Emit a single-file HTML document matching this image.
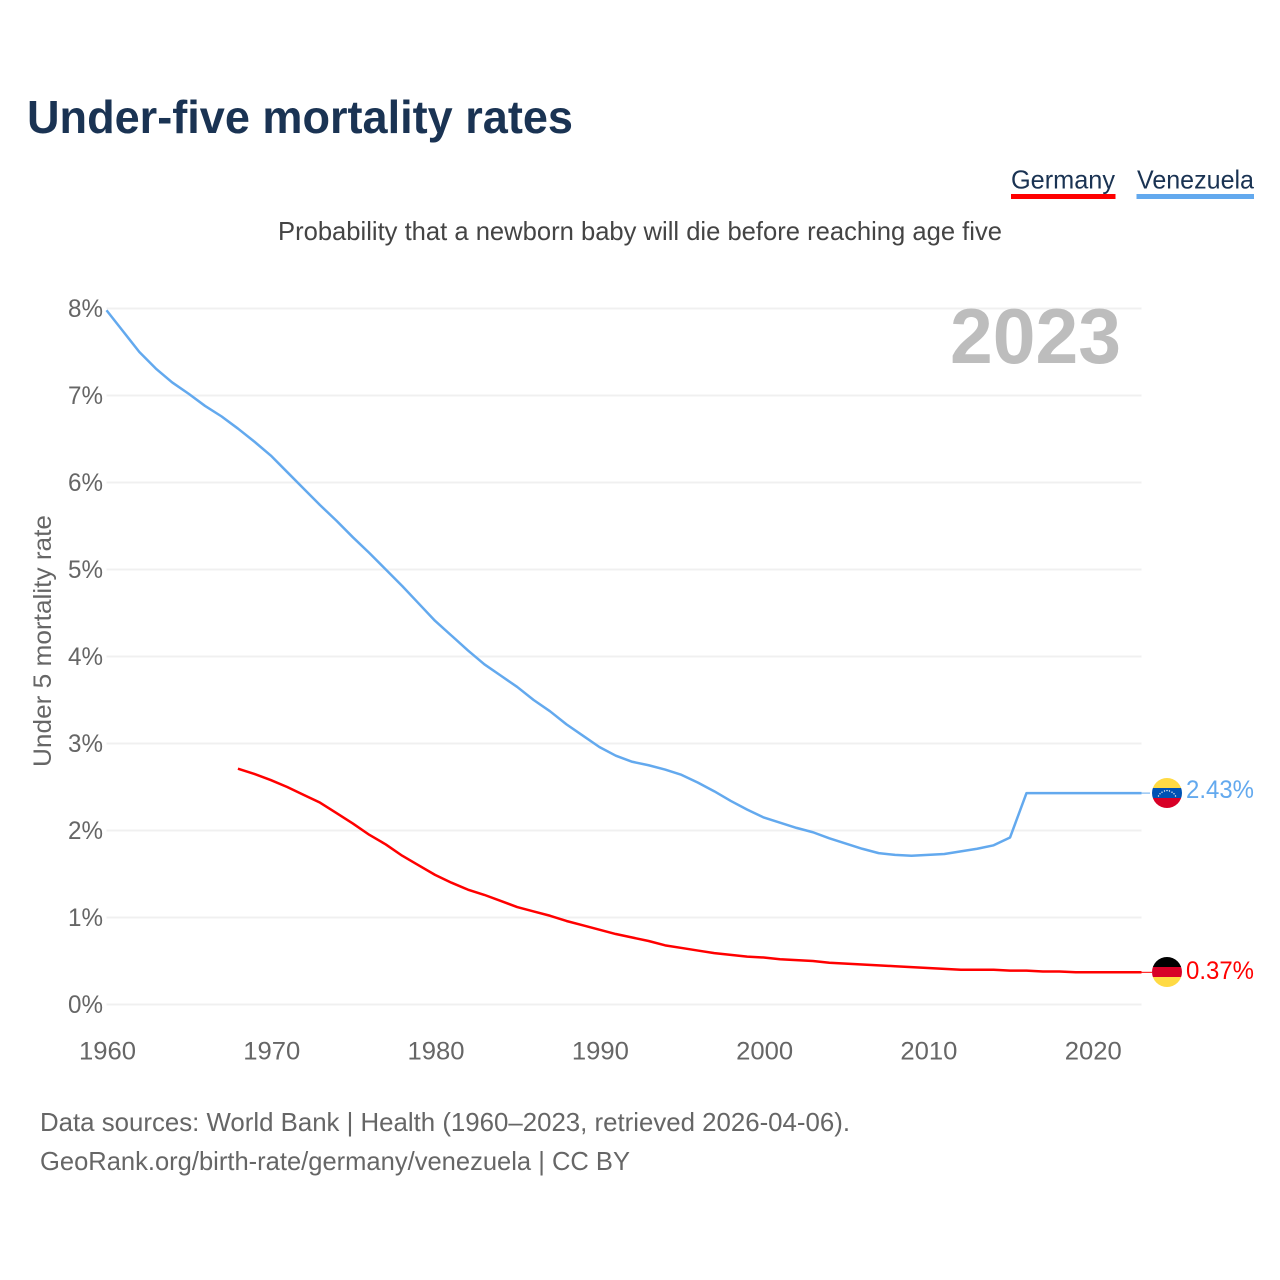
<!DOCTYPE html>
<html lang="en">
<head>
<meta charset="utf-8">
<title>Under-five mortality rates</title>
<style>
html,body{margin:0;padding:0;background:#fff}
svg{display:block}
text{font-family:"Liberation Sans",sans-serif}
</style>
</head>
<body>
<svg id="chart" xmlns="http://www.w3.org/2000/svg" width="1280" height="1280" viewBox="0 0 1280 1280">
  <defs>
    <clipPath id="ve-clip"><circle cx="1167" cy="793" r="15"/></clipPath>
    <clipPath id="de-clip"><circle cx="1167" cy="972" r="15"/></clipPath>
  </defs>
  <rect width="1280" height="1280" fill="#fff"/>
  <text x="27" y="133" font-size="46" font-weight="700" fill="#1a3353" textLength="546" lengthAdjust="spacingAndGlyphs">Under-five mortality rates</text>

  <g>
    <text x="1011" y="188.500" font-size="26" fill="#1a3353" textLength="104" lengthAdjust="spacingAndGlyphs">Germany</text>
    <rect x="1011" y="194" width="104.500" height="5" fill="#ff0000"/>
  </g>
  <g>
    <text x="1137" y="188.500" font-size="26" fill="#1a3353" textLength="117" lengthAdjust="spacingAndGlyphs">Venezuela</text>
    <rect x="1136.500" y="194" width="117.500" height="5" fill="#63a9ee"/>
  </g>

  <text x="278" y="240" font-size="26" fill="#444444" textLength="724" lengthAdjust="spacingAndGlyphs">Probability that a newborn baby will die before reaching age five</text>

  <g id="grid"></g>
  <g id="y-ticks"></g>
  <g id="x-ticks"></g>

  <text x="950" y="363" font-size="78" font-weight="700" fill="#bdbdbd" textLength="171" lengthAdjust="spacingAndGlyphs">2023</text>
  <text transform="translate(51,767) rotate(-90)" font-size="25" fill="#666666" textLength="252" lengthAdjust="spacingAndGlyphs">Under 5 mortality rate</text>

  <g id="series"></g>

  <g clip-path="url(#ve-clip)">
    <rect x="1152" y="778" width="30" height="10" fill="#ffda44"/>
    <rect x="1152" y="788" width="30" height="10" fill="#0052b4"/>
    <rect x="1152" y="798" width="30" height="10" fill="#d80027"/>
    <g fill="#f0f0f0">
      <circle cx="1158.500" cy="796" r=".7"/><circle cx="1160" cy="793.800" r=".7"/><circle cx="1162" cy="792.200" r=".7"/><circle cx="1164.500" cy="791" r=".7"/><circle cx="1167" cy="790.600" r=".7"/><circle cx="1169.500" cy="791" r=".7"/><circle cx="1172" cy="792.200" r=".7"/><circle cx="1174" cy="793.800" r=".7"/><circle cx="1175.500" cy="796" r=".7"/>
    </g>
  </g>
  <g clip-path="url(#de-clip)">
    <rect x="1152" y="957" width="30" height="10" fill="#000000"/>
    <rect x="1152" y="967" width="30" height="10" fill="#d80027"/>
    <rect x="1152" y="977" width="30" height="10" fill="#ffda44"/>
  </g>

  <text id="label-ve" x="1186" y="798" font-size="25" fill="#63a9ee" textLength="68" lengthAdjust="spacingAndGlyphs"></text>
  <text id="label-de" x="1186" y="979" font-size="25" fill="#ff0000" textLength="68" lengthAdjust="spacingAndGlyphs"></text>

  <text x="40" y="1131" font-size="26" fill="#666666" textLength="810" lengthAdjust="spacingAndGlyphs">Data sources: World Bank | Health (1960–2023, retrieved 2026-04-06).</text>
  <text x="40" y="1170" font-size="26" fill="#666666" textLength="590" lengthAdjust="spacingAndGlyphs">GeoRank.org/birth-rate/germany/venezuela | CC BY</text>
</svg>
<script>
const yTickValues = [0, 1, 2, 3, 4, 5, 6, 7, 8];
const xTickYears = [1960, 1970, 1980, 1990, 2000, 2010, 2020];
const venezuelaStartYear = 1960;
const venezuelaValues = [
  7.98, 7.74, 7.50, 7.31, 7.15, 7.02, 6.88, 6.76, 6.62, 6.47,
  6.31, 6.12, 5.93, 5.74, 5.56, 5.37, 5.19, 5.00, 4.81, 4.61,
  4.41, 4.24, 4.07, 3.91, 3.78, 3.65, 3.50, 3.37, 3.22, 3.09,
  2.96, 2.86, 2.79, 2.75, 2.70, 2.64, 2.55, 2.45, 2.34, 2.24,
  2.15, 2.09, 2.03, 1.98, 1.91, 1.85, 1.79, 1.74, 1.72, 1.71,
  1.72, 1.73, 1.76, 1.79, 1.83, 1.92, 2.43, 2.43, 2.43, 2.43,
  2.43, 2.43, 2.43, 2.43
];
const germanyStartYear = 1968;
const germanyValues = [
  2.71, 2.65, 2.58, 2.50, 2.41, 2.32, 2.20, 2.08, 1.95, 1.84,
  1.71, 1.60, 1.49, 1.40, 1.32, 1.26, 1.19, 1.12, 1.07, 1.02,
  0.96, 0.91, 0.86, 0.81, 0.77, 0.73, 0.68, 0.65, 0.62, 0.59,
  0.57, 0.55, 0.54, 0.52, 0.51, 0.50, 0.48, 0.47, 0.46, 0.45,
  0.44, 0.43, 0.42, 0.41, 0.40, 0.40, 0.40, 0.39, 0.39, 0.38,
  0.38, 0.37, 0.37, 0.37, 0.37, 0.37
];
const venezuelaLabel = "2.43%";
const germanyLabel = "0.37%";

const NS = "http://www.w3.org/2000/svg";
function xScale(year) { return 106.5 + (year - 1960) * (1141.5 - 106.5) / 63; }
function yScale(value) { return 1004.5 - value * 87; }

function makeText(content, x, y, anchor, len) {
  const t = document.createElementNS(NS, "text");
  t.setAttribute("x", x);
  t.setAttribute("y", y);
  t.setAttribute("font-size", "25");
  t.setAttribute("fill", "#666666");
  t.setAttribute("text-anchor", anchor);
  t.setAttribute("textLength", len);
  t.setAttribute("lengthAdjust", "spacingAndGlyphs");
  t.textContent = content;
  return t;
}

const grid = document.getElementById("grid");
const yTicks = document.getElementById("y-ticks");
yTickValues.forEach(function (v) {
  const line = document.createElementNS(NS, "line");
  
  
  line.setAttribute("x1", xScale(1960));
  line.setAttribute("x2", xScale(2023));
  line.setAttribute("y1", yScale(v));
  line.setAttribute("y2", yScale(v));
  line.setAttribute("stroke", "#f0f0f0");
  line.setAttribute("stroke-width", "2");
  grid.appendChild(line);
  const label = makeText(v + "%", 103, yScale(v) + 8.5, "end", 35);
  
  
  yTicks.appendChild(label);
});

const xTicks = document.getElementById("x-ticks");
xTickYears.forEach(function (year) {
  const label = makeText(String(year), xScale(year) + 1, 1059.5, "middle", 57);
  
  
  xTicks.appendChild(label);
});

function pathFor(values, startYear) {
  return values.map(function (v, i) {
    return (i ? "L" : "M") + xScale(startYear + i).toFixed(2) + " " + yScale(v).toFixed(2);
  }).join(" ");
}

const series = document.getElementById("series");

const veLine = document.createElementNS(NS, "path");


veLine.setAttribute("d", pathFor(venezuelaValues, venezuelaStartYear));
veLine.setAttribute("fill", "none");
veLine.setAttribute("stroke", "#63a9ee");
veLine.setAttribute("stroke-width", "2.5");
veLine.setAttribute("stroke-linejoin", "round");
series.appendChild(veLine);

const deLine = document.createElementNS(NS, "path");


deLine.setAttribute("d", pathFor(germanyValues, germanyStartYear));
deLine.setAttribute("fill", "none");
deLine.setAttribute("stroke", "#ff0000");
deLine.setAttribute("stroke-width", "2.5");
deLine.setAttribute("stroke-linejoin", "round");
series.appendChild(deLine);

const veConnector = document.createElementNS(NS, "line");


veConnector.setAttribute("x1", xScale(2023));
veConnector.setAttribute("x2", 1150);
veConnector.setAttribute("y1", yScale(venezuelaValues[venezuelaValues.length - 1]));
veConnector.setAttribute("y2", yScale(venezuelaValues[venezuelaValues.length - 1]));
veConnector.setAttribute("stroke", "#63a9ee");
veConnector.setAttribute("stroke-width", "1");
series.appendChild(veConnector);

const deConnector = document.createElementNS(NS, "line");


deConnector.setAttribute("x1", xScale(2023));
deConnector.setAttribute("x2", 1152);
deConnector.setAttribute("y1", yScale(germanyValues[germanyValues.length - 1]));
deConnector.setAttribute("y2", yScale(germanyValues[germanyValues.length - 1]));
deConnector.setAttribute("stroke", "#ff0000");
deConnector.setAttribute("stroke-width", "1");
series.appendChild(deConnector);

document.getElementById("label-ve").textContent = venezuelaLabel;
document.getElementById("label-de").textContent = germanyLabel;
</script>
</body>
</html>
